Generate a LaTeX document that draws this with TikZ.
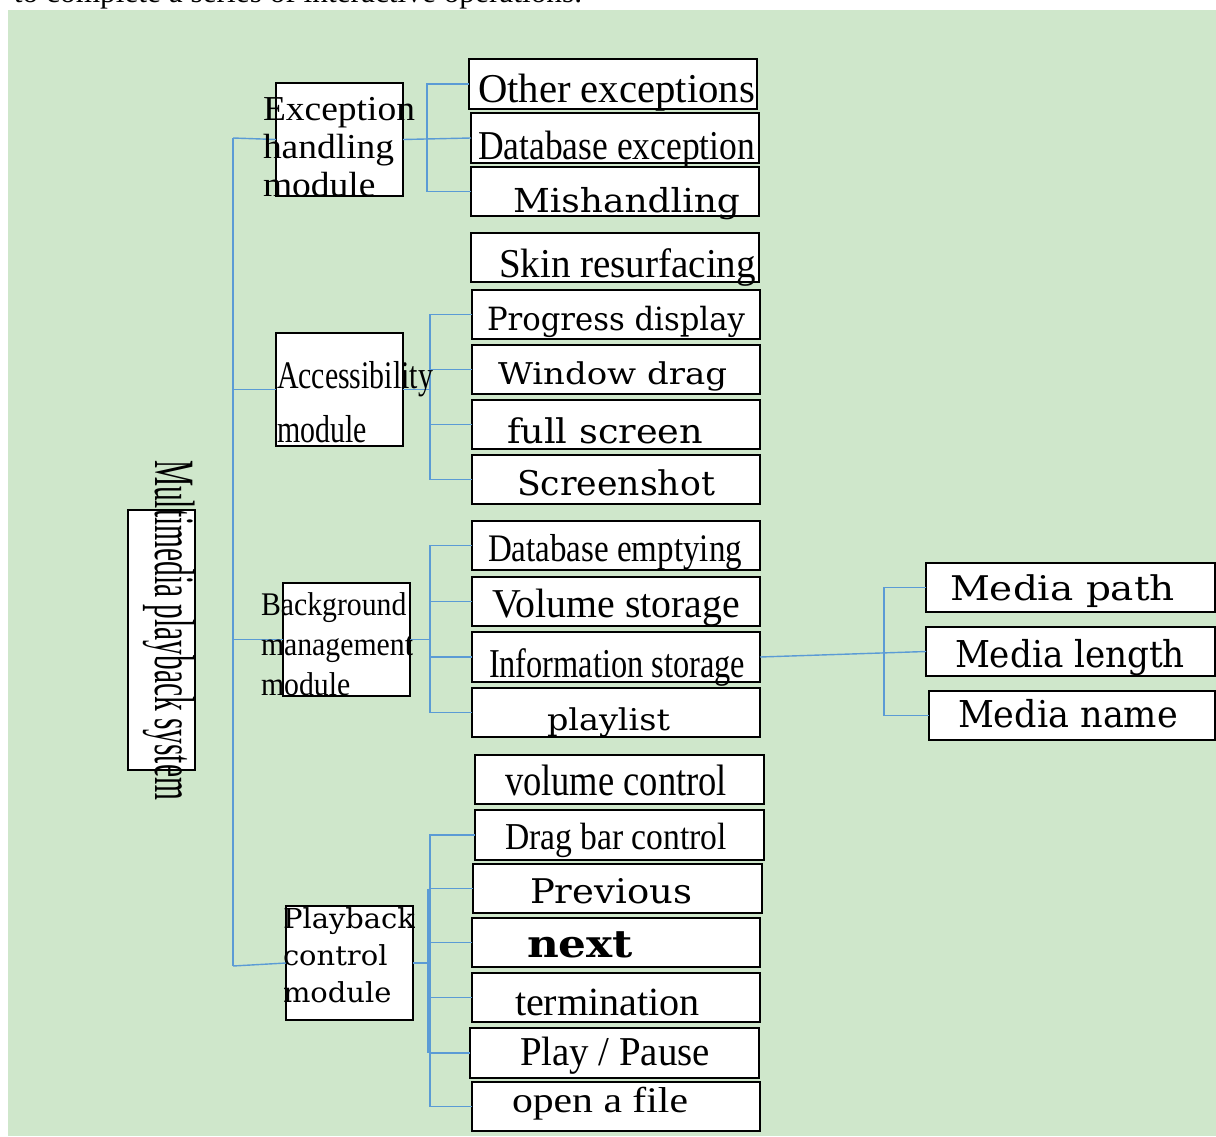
\documentclass[tikz,border=0pt]{standalone}
\usepackage{fontspec}
\setmainfont{Liberation Serif}
\newfontfamily\dvs{DejaVu Serif}
\usepackage{graphicx}
\definecolor{bgreen}{RGB}{207,231,203}
\definecolor{lblue}{RGB}{91,155,213}
\newcommand\fitw[2]{\resizebox{#1pt}{\height}{#2}}
\newcommand\LS[1]{\fontsize{#1}{#1}\selectfont}
\newcommand\LSb[2]{\fontsize{#1}{#2}\selectfont}
\newcommand\DV[1]{\dvs\fontsize{#1}{#1}\selectfont}
\newcommand\DVb[2]{\dvs\fontsize{#1}{#2}\selectfont}
\begin{document}
\begin{tikzpicture}[x=1pt,y=-1pt,
  box/.style={draw=black, fill=white, line width=1.4pt, inner sep=0pt, outer sep=0pt, rectangle},
  txt/.style={inner sep=0pt, outer sep=0pt, anchor=base west, text=black},
  link/.style={draw=lblue, line width=1.4pt}]
\useasboundingbox (0,0) rectangle (1216,1136);
\fill[bgreen] (8,10) rectangle (1216,1136);
% cut-off caption line at the top
\node[txt] (cap) at (14,2) {\fitw{568}{\LS{31}to complete a series of interactive operations.}};

% boxes
\node[box, minimum width=67, minimum height=260] (main) at (161.5,640) {};
\node[box, minimum width=127, minimum height=113] (exc) at (339.5,139.5) {};
\node[box, minimum width=127, minimum height=113] (acc) at (339.5,389.5) {};
\node[box, minimum width=127, minimum height=113] (bg) at (346.5,639.5) {};
\node[box, minimum width=127, minimum height=114] (pb) at (349.5,963) {};

\node[box, minimum width=288, minimum height=50] (oth) at (613,84) {};
\node[box, minimum width=288, minimum height=50] (dbx) at (615,138) {};
\node[box, minimum width=288, minimum height=49] (mis) at (615,191.5) {};
\node[box, minimum width=288, minimum height=49] (skin) at (615,257.5) {};
\node[box, minimum width=288, minimum height=49] (prog) at (616,314.5) {};
\node[box, minimum width=288, minimum height=49] (win) at (616,369.5) {};
\node[box, minimum width=288, minimum height=49] (full) at (616,424.5) {};
\node[box, minimum width=288, minimum height=49] (scr) at (616,479.5) {};
\node[box, minimum width=288, minimum height=49] (dbe) at (616,545.5) {};
\node[box, minimum width=288, minimum height=49] (vol) at (616,601.5) {};
\node[box, minimum width=288, minimum height=50] (inf) at (616,657) {};
\node[box, minimum width=288, minimum height=49] (pl) at (616,712.5) {};
\node[box, minimum width=289, minimum height=49] (vc) at (619.5,779.5) {};
\node[box, minimum width=289, minimum height=50] (drag) at (619.5,835) {};
\node[box, minimum width=289, minimum height=49] (prev) at (617.5,888.5) {};
\node[box, minimum width=288, minimum height=49] (nxt) at (616,942.5) {};
\node[box, minimum width=288, minimum height=49] (term) at (616,997.5) {};
\node[box, minimum width=289, minimum height=50] (play) at (614.5,1053) {};
\node[box, minimum width=288, minimum height=49] (open) at (616,1106.5) {};
\node[box, minimum width=289, minimum height=49] (mpath) at (1070.5,587.5) {};
\node[box, minimum width=289, minimum height=49] (mlen) at (1070.5,651.5) {};
\node[box, minimum width=286, minimum height=49] (mname) at (1072,715.5) {};

% connectors
\coordinate (trT) at (233,138);
\coordinate (trB) at (233,966);
\draw[link] (trT) -- (trB);
\draw[link] (trT) -- (exc.west);
\draw[link] (acc.west -| trT) -- (acc.west);
\draw[link] (bg.west -| trT) -- (bg.west);
\draw[link] (trB) -- (pb.west);

\coordinate (ebk) at (427,84);
\draw[link] (oth.west) -- (ebk) |- (mis.west);
\draw[link] (exc.east) -- (dbx.west);

\coordinate (abk) at (430,314.5);
\draw[link] (prog.west) -- (abk) |- (scr.west);
\draw[link] (win.west) -- (win.west -| abk);
\draw[link] (full.west) -- (full.west -| abk);
\draw[link] (acc.east) -- (abk |- acc.east);

\coordinate (gbk) at (430,545.5);
\draw[link] (dbe.west) -- (gbk) |- (pl.west);
\draw[link] (vol.west) -- (vol.west -| gbk);
\draw[link] (inf.west) -- (inf.west -| gbk);
\draw[link] (bg.east) -- (gbk |- bg.east);

\coordinate (pbk) at (430,835);
\coordinate (pbk2) at (428,888.5);
\coordinate (pbk3) at (428,1053);
\draw[link] (drag.west) -- (pbk) |- (open.west);
\draw[link] (prev.west) -- (prev.west -| pbk);
\draw[link] (nxt.west) -- (nxt.west -| pbk);
\draw[link] (term.west) -- (term.west -| pbk);
\draw[link] (play.west) -- (play.west -| pbk);
\draw[link] (pbk2) -- (pbk3);
\draw[link] (pb.east) -- (pbk2 |- pb.east);

\coordinate (mbk) at (884,587.5);
\draw[link] (mpath.west) -- (mbk) |- (mname.west);
\draw[link] (inf.east) -- (mlen.west);

% texts
\node[txt, rotate=-90] (t-main) at (155,460) {\fitw{340}{\LS{57}Multimedia playback system}};
\node[txt] (t-exc) at (263,120) {\fitw{152}{\LSb{35}{38}\begin{tabular}[t]{@{}l@{}}Exception\\handling\\module\end{tabular}}};
\node[txt] (t-acc) at (277,388) {\fitw{156}{\LSb{39}{54}\begin{tabular}[t]{@{}l@{}}Accessibility\\module\end{tabular}}};
\node[txt] (t-bg) at (261,615) {\fitw{152}{\LSb{33}{40}\begin{tabular}[t]{@{}l@{}}Background\\management\\module\end{tabular}}};
\node[txt] (t-pb) at (283,928) {\fitw{132}{\DVb{27.5}{37}\begin{tabular}[t]{@{}l@{}}Playback\\control\\module\end{tabular}}};

\node[txt] (t-oth) at (478,102) {\fitw{277}{\LS{41}Other exceptions}};
\node[txt] (t-dbx) at (478,159) {\fitw{277}{\LS{41}Database exception}};
\node[txt] (t-mis) at (513,212) {\fitw{227}{\DV{33}Mishandling}};
\node[txt] (t-skin) at (499,277) {\fitw{257}{\LS{41}Skin resurfacing}};
\node[txt] (t-prog) at (487,330) {\fitw{258}{\DV{32}Progress display}};
\node[txt] (t-win) at (498,384) {\fitw{229}{\DV{30}Window drag}};
\node[txt] (t-full) at (507,443) {\fitw{196}{\DV{34}full screen}};
\node[txt] (t-scr) at (517,495) {\fitw{198}{\DV{34}Screenshot}};
\node[txt] (t-dbe) at (488,561) {\fitw{254}{\LS{39}Database emptying}};
\node[txt] (t-vol) at (492,617) {\fitw{248}{\LS{41}Volume storage}};
\node[txt] (t-inf) at (489,677) {\fitw{256}{\LS{41}Information storage}};
\node[txt] (t-pl) at (547,730) {\fitw{123}{\DV{30}playlist}};
\node[txt] (t-vc) at (505,795) {\fitw{222}{\LS{44}volume control}};
\node[txt] (t-drag) at (505,849) {\fitw{222}{\LS{38}Drag bar control}};
\node[txt] (t-prev) at (530,903) {\fitw{162}{\DV{34}Previous}};
\node[txt] (t-nxt) at (527,957) {\fitw{106}{\DV{38}\bfseries next}};
\node[txt] (t-term) at (515,1015) {\fitw{185}{\LS{40}termination}};
\node[txt] (t-play) at (520,1065) {\fitw{190}{\LS{41}Play / Pause}};
\node[txt] (t-open) at (512,1112) {\fitw{176}{\LS{36}open a file}};
\node[txt] (t-mpath) at (950,600) {\fitw{225}{\DV{34}Media path}};
\node[txt] (t-mlen) at (955,667) {\fitw{230}{\DV{37}Media length}};
\node[txt] (t-mname) at (958,727) {\fitw{220}{\DV{37}Media name}};
\end{tikzpicture}
\end{document}
